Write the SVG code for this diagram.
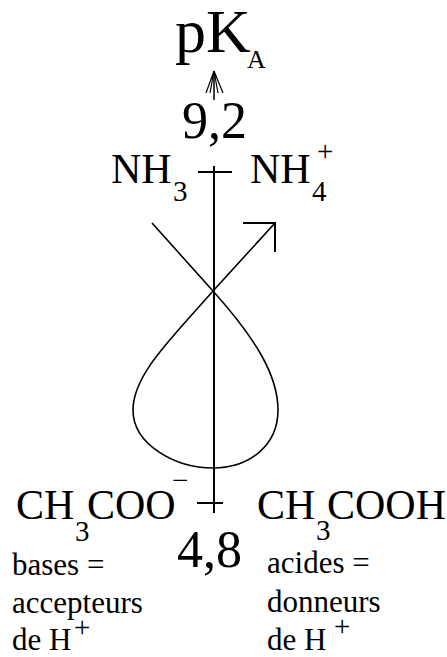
<svg xmlns="http://www.w3.org/2000/svg" width="447" height="657" viewBox="0 0 447 657">
<style>
text{font-family:'Liberation Serif','Times New Roman','DejaVu Serif',serif;fill:#000}
.big{font-size:42px}
.sub{font-size:29px}
.num{font-size:52px}
.lbl{font-size:31px}
.ln{stroke:#000;fill:none;stroke-width:2}
.cv{stroke:#000;fill:none;stroke-width:1.6}
</style>
<rect width="447" height="657" fill="#fff"/>
<g id="connectors">
<path class="ln" d="M214,166 V513 M198,172 H232 M197,503 H223"/>
<path class="cv" d="M152,223 L213,291 C255,338 278,375 278,410 C278,445 250,468 213,468 C176,468 133,445 133,410 C133,375 170,340 213,291 L275,223"/>
<path class="ln" d="M243,223 H275 V252"/>
<path class="ln" style="stroke-width:1.5" d="M214,100 V71"/>
<path class="cv" style="stroke-width:1.2" d="M214,71 L206,93 M214,71 L210,93 M214,71 L218,93 M214,71 L223,93"/>
</g>
<g id="pKA" font-family="Liberation Serif, serif">
<text x="175" y="52" font-size="62">pK</text>
<text x="247" y="68" font-size="26">A</text>
</g>
<g id="v92" font-family="Liberation Serif, serif"><text class="num" x="182" y="138">9,2</text></g>
<g id="NH3" font-family="Liberation Serif, serif">
<text class="big" x="111" y="183">NH</text>
<text class="sub" x="173" y="201">3</text>
</g>
<g id="NH4" font-family="Liberation Serif, serif">
<text class="big" x="250" y="183">NH</text>
<text class="sub" x="312" y="201">4</text>
<text class="sub" x="317" y="161">+</text>
</g>
<g id="CH3COOminus" font-family="Liberation Serif, serif">
<text class="big" x="16" y="519">CH</text>
<text class="sub" x="75" y="541">3</text>
<text class="big" x="87" y="519">COO</text>
<text class="sub" x="172" y="490">−</text>
</g>
<g id="CH3COOH" font-family="Liberation Serif, serif">
<text class="big" x="257" y="519">CH</text>
<text class="sub" x="316" y="540">3</text>
<text class="big" x="327" y="519">COOH</text>
</g>
<g id="v48" font-family="Liberation Serif, serif"><text class="num" x="177" y="567">4,8</text></g>
<g id="bases" font-family="Liberation Serif, serif">
<text class="lbl" x="12" y="575">bases =</text>
<text class="lbl" x="12" y="613">accepteurs</text>
<text class="lbl" x="12" y="650">de H</text>
<text class="sub" x="74" y="637">+</text>
</g>
<g id="acides" font-family="Liberation Serif, serif">
<text class="lbl" x="267" y="573">acides =</text>
<text class="lbl" x="267" y="612">donneurs</text>
<text class="lbl" x="267" y="650">de H</text>
<text class="sub" x="334" y="636">+</text>
</g>
</svg>
